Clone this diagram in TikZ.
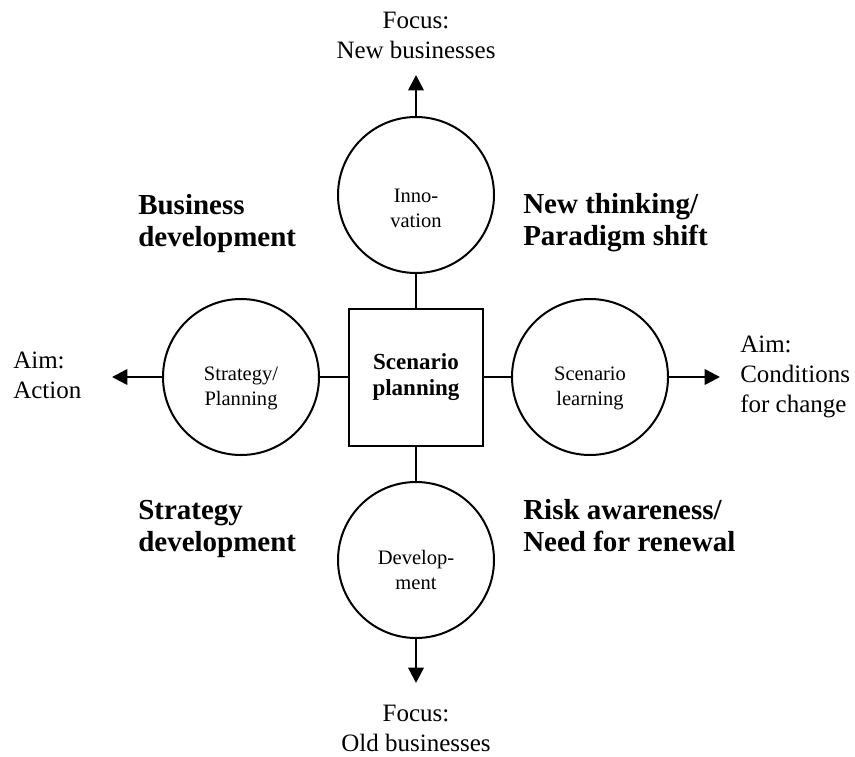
\documentclass[tikz,border=0pt]{standalone}
\usepackage{fontspec}
\setmainfont{Liberation Serif}
\usetikzlibrary{arrows.meta}
\begin{document}
\begin{tikzpicture}[x=0.75pt,y=-0.75pt,
  ring/.style={draw,circle,line width=1.5pt,minimum size=117pt,inner sep=0pt},
  hub/.style={draw,rectangle,line width=1.5pt,minimum width=100.5pt,minimum height=102.75pt,
    inner sep=0pt,align=center,font=\fontsize{17.25}{19.5}\selectfont\bfseries},
  ringtext/.style={inner sep=0pt,align=center,font=\fontsize{15.4}{18.75}\selectfont},
  note/.style={inner sep=0pt,font=\fontsize{18.75}{22.5}\selectfont},
  quad/.style={inner sep=0pt,align=left,anchor=west,font=\fontsize{21.75}{24}\selectfont\bfseries},
  link/.style={line width=1.9pt},
  outarrow/.style={line width=1.9pt,-{Triangle[width=11.5pt,length=11.5pt]}}
]
\useasboundingbox (0,0) rectangle (855,756);

% central box and the four circles around it
\node[hub] (hub) at (416,377) {Scenario\\planning};
\node[ring] (inn) at (416,195) {};
\node[ring] (dev) at (416,560) {};
\node[ring] (str) at (241,377) {};
\node[ring] (scn) at (590,377) {};

% circle captions
\node[ringtext] (innT) at (416,208) {Inno-\\vation};
\node[ringtext] (devT) at (416,570) {Develop-\\ment};
\node[ringtext] (strT) at (241,388) {Strategy/\\Planning};
\node[ringtext] (scnT) at (590,388) {Scenario\\learning};

% links between the box and the circles
\draw[link] (inn) -- (hub);
\draw[link] (dev) -- (hub);
\draw[link] (str) -- (hub);
\draw[link] (scn) -- (hub);

% outward arrows
\coordinate (upTip) at (416,75);
\coordinate (downTip) at (416,683);
\coordinate (leftTip) at (112,377);
\coordinate (rightTip) at (720,377);
\draw[outarrow] (inn.north) -- (upTip);
\draw[outarrow] (dev.south) -- (downTip);
\draw[outarrow] (str.west) -- (leftTip);
\draw[outarrow] (scn.east) -- (rightTip);

% end labels
\node[note,align=center] (focusNew) at (416,35) {Focus:\\New businesses};
\node[note,align=center] (focusOld) at (416,728) {Focus:\\Old businesses};
\node[note,align=left,anchor=west] (aimAct) at (13,375) {Aim:\\Action};
\node[note,align=left,anchor=west] (aimCond) at (740,376.5) {Aim:\\Conditions\\for change};

% quadrant headings
\node[quad] (qBus) at (138,223.5) {Business\\development};
\node[quad] (qNew) at (523,223) {New thinking/\\Paradigm shift};
\node[quad] (qStr) at (138,529) {Strategy\\development};
\node[quad] (qRisk) at (523,526) {Risk awareness/\\Need for renewal};
\end{tikzpicture}
\end{document}
